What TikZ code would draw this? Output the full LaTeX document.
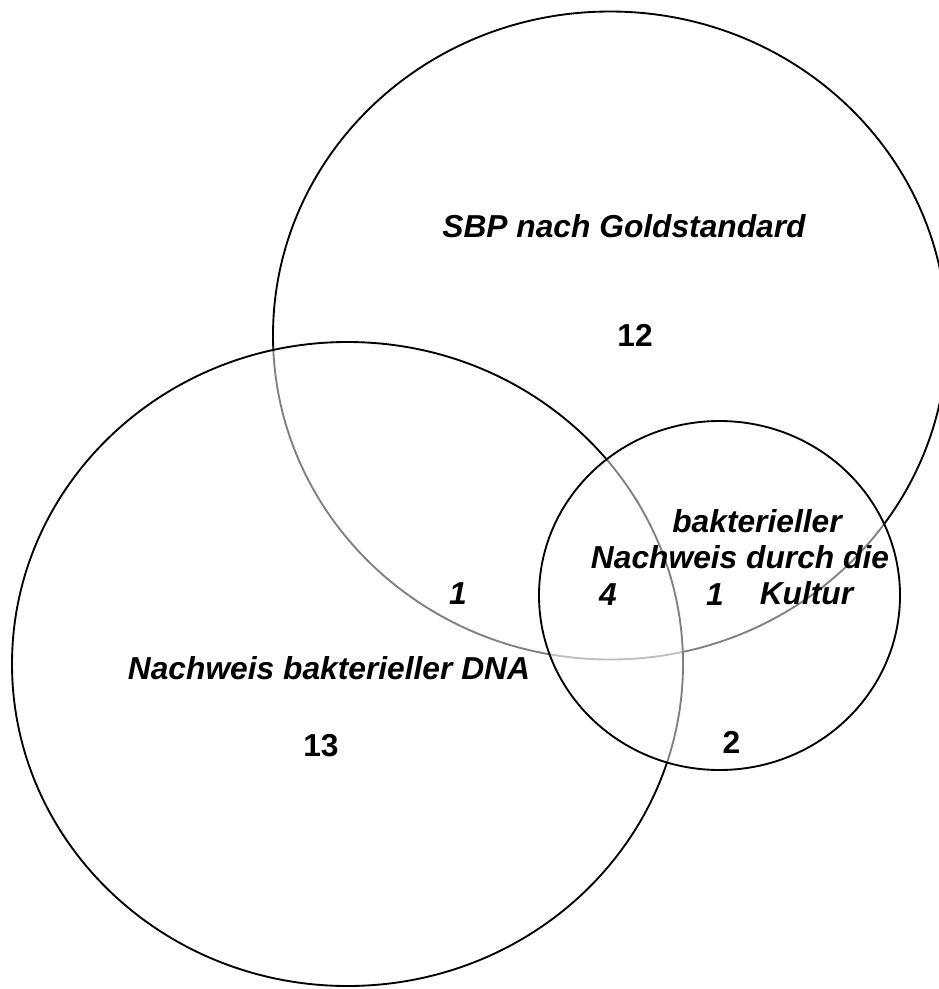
\documentclass[tikz,border=0pt]{standalone}
\usepackage{fontspec}
\setmainfont{Liberation Sans}
\usetikzlibrary{shapes.geometric}
\begin{document}
\begin{tikzpicture}[x=0.75pt,y=-0.75pt,
  venn/.style={ellipse, draw=black, line width=1.4pt, inner sep=0pt, outer sep=0pt},
  veil/.style={fill=white, fill opacity=0.5},
  lbl/.style={anchor=base, inner sep=0pt, font=\fontsize{23.8}{27}\selectfont\bfseries\itshape},
  num/.style={anchor=base, inner sep=0pt, font=\fontsize{23.8}{27}\selectfont\bfseries}]
\useasboundingbox (0,0) rectangle (939,989);
\clip (0,0) rectangle (939,989);
% sets
\node[venn, minimum width=505.5pt, minimum height=486pt] (gold) at (610,335.5) {};
\node[venn, veil, minimum width=503.25pt, minimum height=483pt] (dna) at (347.5,664) {};
\node[venn, veil, minimum width=270.75pt, minimum height=261.75pt] (kultur) at (719.5,595.5) {};
% labels
\node[lbl] (tgold) at (624,237) {SBP nach Goldstandard};
\node[num] (n12) at (635,346) {12};
\node[lbl] (tdna) at (329,679) {Nachweis bakterieller DNA};
\node[num] (n13) at (321,756) {13};
\node[lbl] (n1a) at (458,604) {1};
\node[lbl] (n4) at (608,605) {4};
\node[lbl] (n1b) at (715,605) {1};
\node[lbl] (tk1) at (757,532) {bakterieller};
\node[lbl] (tk2) at (740,568) {Nachweis durch die};
\node[lbl] (tk3) at (806.5,604) {Kultur};
\node[num] (n2) at (731.5,753) {2};
\end{tikzpicture}
\end{document}
